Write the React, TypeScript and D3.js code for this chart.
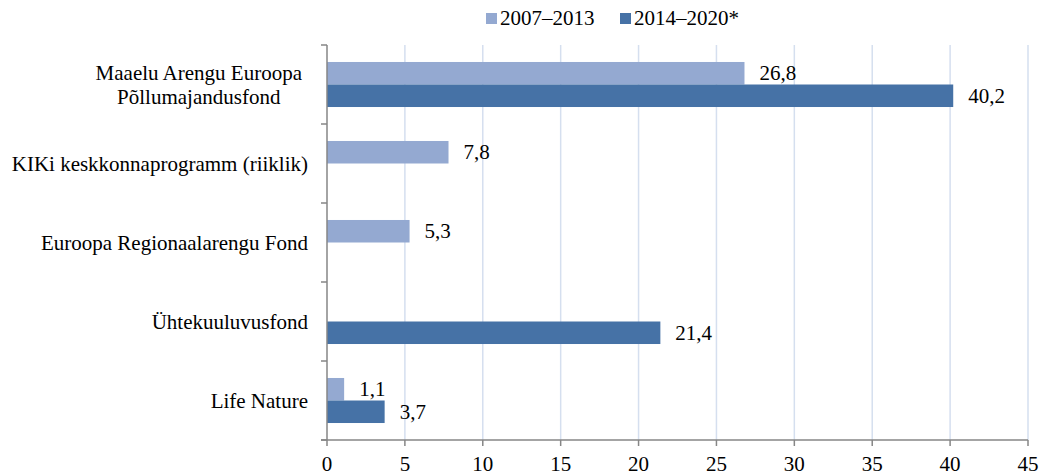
import { useEffect, useRef } from "react";
import * as d3 from "d3";

const CATEGORIES = [
  "Maaelu Arengu Euroopa\nPõllumajandusfond",
  "KIKi keskkonnaprogramm (riiklik)",
  "Euroopa Regionaalarengu Fond",
  "Ühtekuuluvusfond",
  "Life Nature",
];
const SERIES = ["2007–2013", "2014–2020*"];
const VALUES_2007: (number | null)[] = [26.8, 7.8, 5.3, null, 1.1];
const VALUES_2014: (number | null)[] = [40.2, null, null, 21.4, 3.7];
const X_TICKS = [0, 5, 10, 15, 20, 25, 30, 35, 40, 45];

const COLORS = ["#94a9d1", "#4672a6"];
const FONT = "Times New Roman, Liberation Serif, Tinos, DejaVu Serif, serif";

export default function App() {
  const ref = useRef<SVGSVGElement>(null);

  useEffect(() => {
    if (!ref.current) return;
    const svg = d3.select(ref.current);
    svg.selectAll("*").remove();

    const W = 1040, H = 475;
    const m = { top: 45, right: 12, bottom: 35, left: 327 };
    const x0 = m.left, x1 = W - m.right;
    const y0 = m.top, y1 = H - m.bottom;

    const x = d3.scaleLinear().domain([0, 45]).range([x0, x1]);
    const y = d3.scaleBand<string>().domain(CATEGORIES).range([y0, y1])
      .paddingInner(0.43).paddingOuter(0.215);
    const ySub = d3.scaleBand<string>().domain(SERIES).range([0, y.bandwidth()]);

    const fmt = (v: number) => v.toFixed(1).replace(".", ",");

    // gridlines
    svg.append("g").selectAll("line")
      .data(X_TICKS.filter(t => t > 0))
      .enter().append("line")
      .attr("x1", d => x(d)).attr("x2", d => x(d))
      .attr("y1", y0).attr("y2", y1)
      .attr("stroke", "#d5dfef").attr("stroke-width", 1.5);

    // bars + value labels
    const rows = CATEGORIES.map((c, i) => ({ c, vals: [VALUES_2007[i], VALUES_2014[i]] }));
    const gb = svg.append("g");
    rows.forEach(r => {
      r.vals.forEach((v, si) => {
        if (v == null) return;
        const by = (y(r.c) ?? 0) + (ySub(SERIES[si]) ?? 0);
        const bh = ySub.bandwidth();
        gb.append("rect")
          .attr("x", x(0)).attr("y", by)
          .attr("width", x(v) - x(0)).attr("height", bh)
          .attr("fill", COLORS[si]);
        gb.append("text")
          .attr("x", x(v) + 15).attr("y", by + bh / 2 + 7)
          .style("font-family", FONT).attr("font-size", 21)
          .attr("fill", "#000")
          .text(fmt(v));
      });
    });

    // axes
    const axisColor = "#868686";
    const ga = svg.append("g").attr("stroke", axisColor).attr("stroke-width", 1.5);
    ga.append("line").attr("x1", x0).attr("x2", x0).attr("y1", y0).attr("y2", y1);
    ga.append("line").attr("x1", x0 - 6).attr("x2", x1).attr("y1", y1).attr("y2", y1);
    const bounds = CATEGORIES.map(c => y(c)! - y.step() * y.paddingInner() / 2);
    bounds.push(y1);
    bounds.forEach(b => {
      ga.append("line").attr("x1", x0 - 6).attr("x2", x0).attr("y1", b).attr("y2", b);
    });
    X_TICKS.forEach(t => {
      ga.append("line").attr("x1", x(t)).attr("x2", x(t)).attr("y1", y1).attr("y2", y1 + 6);
    });

    // x tick labels
    svg.append("g").selectAll("text")
      .data(X_TICKS)
      .enter().append("text")
      .attr("x", d => x(d)).attr("y", y1 + 31)
      .attr("text-anchor", "middle")
      .style("font-family", FONT).attr("font-size", 21).attr("fill", "#000")
      .text(d => String(d));

    // category labels
    const gl = svg.append("g").style("font-family", FONT).attr("font-size", 21).attr("fill", "#000");
    CATEGORIES.forEach(c => {
      const cy = y(c)! + y.bandwidth() / 2;
      const lines = c.split("\n");
      if (lines.length === 1) {
        gl.append("text").attr("x", x0 - 19).attr("y", cy + 7)
          .attr("text-anchor", "end").text(c);
      } else {
        const t = gl.append("text").attr("y", cy - 5).attr("text-anchor", "middle");
        const spans = lines.map((l, i) => t.append("tspan").attr("dy", i === 0 ? 0 : 24).text(l));
        const w = Math.max(...spans.map(s => (s.node() as SVGTSpanElement).getComputedTextLength()));
        const cx = x0 - 25 - w / 2;
        spans.forEach(s => s.attr("x", cx));
      }
    });

    // legend
    const lg = svg.append("g").style("font-family", FONT).attr("font-size", 21).attr("fill", "#000");
    const legendX = [486, 620];
    SERIES.forEach((s, i) => {
      lg.append("rect").attr("x", legendX[i]).attr("y", 13).attr("width", 11).attr("height", 11)
        .attr("fill", COLORS[i]);
      lg.append("text").attr("x", legendX[i] + 14).attr("y", 25).text(s);
    });
  }, []);

  return (
    <svg
      ref={ref}
      width={1040}
      height={475}
      style={{ position: "absolute", left: 0, top: 0, background: "#fff" }}
    />
  );
}
